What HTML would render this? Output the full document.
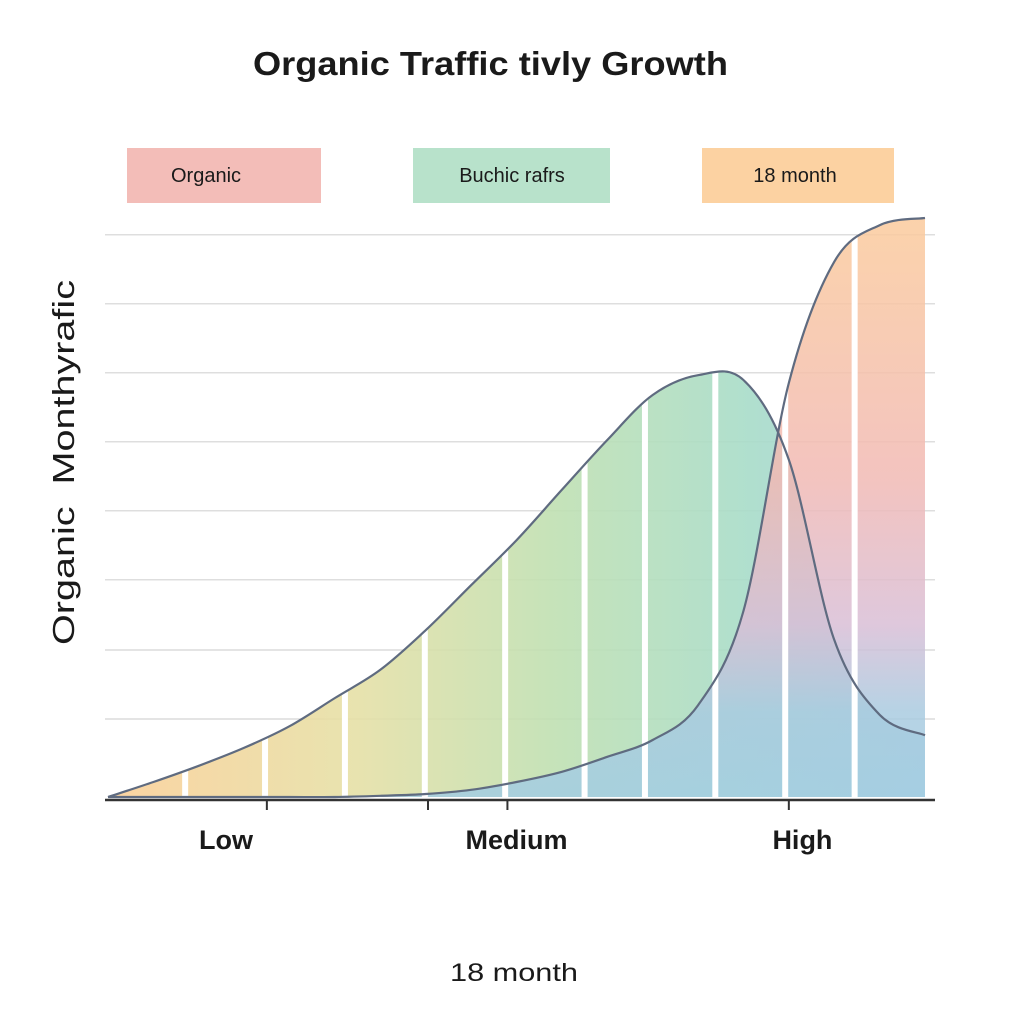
<!DOCTYPE html>
<html><head><meta charset="utf-8"><style>
body{margin:0;background:#fff;width:1024px;height:1024px;overflow:hidden}
svg text{font-family:"Liberation Sans",sans-serif;fill:#1a1a1a}
</style></head><body>
<svg id="chart" width="1024" height="1024" viewBox="0 0 1024 1024">
<defs>
<linearGradient id="gA" x1="108" y1="0" x2="925" y2="0" gradientUnits="userSpaceOnUse">
<stop offset="0" stop-color="#fbcf98"/><stop offset="0.3" stop-color="#e6e0a6"/><stop offset="0.55" stop-color="#bfe0b2"/><stop offset="0.78" stop-color="#a8dcc8"/><stop offset="1" stop-color="#a6cfe0"/></linearGradient>
<linearGradient id="gB" x1="0" y1="215" x2="0" y2="800" gradientUnits="userSpaceOnUse">
<stop offset="0" stop-color="#fbcb9c"/><stop offset="0.45" stop-color="#f1b9b4"/><stop offset="0.7" stop-color="#d9bed6"/><stop offset="0.85" stop-color="#a9cbe0"/><stop offset="1" stop-color="#a3cde2"/></linearGradient>
<clipPath id="clipFill"><path id="cpA"/><path id="cpB"/></clipPath>
</defs>
<text x="253" y="75" textLength="475" lengthAdjust="spacingAndGlyphs" font-size="33" font-weight="bold">Organic Traffic tivly Growth</text>
<g>
<rect x="127" y="148" width="194" height="55" fill="#f3bdb8"/>
<text x="206" y="182" text-anchor="middle" font-size="20">Organic</text>
<rect x="413" y="148" width="197" height="55" fill="#b8e2cb"/>
<text x="512" y="182" text-anchor="middle" font-size="20">Buchic rafrs</text>
<rect x="702" y="148" width="192" height="55" fill="#fcd2a2"/>
<text x="795" y="182" text-anchor="middle" font-size="20">18 month</text>
</g>
<g id="grid"></g>
<g id="fills"></g>
<g id="seps" clip-path="url(#clipFill)"></g>
<g id="lines"></g>
<line x1="105" y1="800" x2="935" y2="800" stroke="#333" stroke-width="2.5"/>
<g id="ticks"></g>
<text transform="translate(74,645) rotate(-90)" textLength="365" lengthAdjust="spacingAndGlyphs" font-size="31" xml:space="preserve">Organic  Monthyrafic</text>
<text x="450" y="981" textLength="128" lengthAdjust="spacingAndGlyphs" font-size="25">18 month</text>
</svg>
<script>
const months=[0,1,2,3,4,5,6,7,8,9,10,11,12,13,14,15,16,17,18];
const seriesA=[0,2.5,5.2,8.2,11.8,16.5,21.2,27.8,35.3,42.8,51.2,59.5,67,70.3,69.5,56.2,26.2,13.7,10.3];
const seriesB=[0,0,0,0,0,0,0.2,0.5,1.2,2.5,4.2,6.7,9.5,15.3,31,69,89.2,95.3,96.5];
const gridValues=[13,24.5,36.2,47.7,59.2,70.7,82.2,93.7];
const tickMonths=[3.5,7.05,8.8,15];
const tickLabels=[{m:2.6,t:"Low"},{m:9.0,t:"Medium"},{m:15.3,t:"High"}];
const sepMonths=[1.7,3.46,5.22,6.98,8.75,10.5,11.83,13.38,14.92,16.45];
const NS="http://www.w3.org/2000/svg";
const X=m=>108+m*(925-108)/18;
const Y=v=>797-v*6;
function pathFor(vals){
  const p=vals.map((v,i)=>[X(months[i]),Y(v)]);
  let d="M"+p[0][0]+","+p[0][1];
  for(let i=0;i<p.length-1;i++){
    const p0=p[Math.max(i-1,0)],p1=p[i],p2=p[i+1],p3=p[Math.min(i+2,p.length-1)];
    const c1=[p1[0]+(p2[0]-p0[0])/6,p1[1]+(p2[1]-p0[1])/6];
    const c2=[p2[0]-(p3[0]-p1[0])/6,p2[1]-(p3[1]-p1[1])/6];
    d+=` C${c1[0]},${c1[1]} ${c2[0]},${c2[1]} ${p2[0]},${p2[1]}`;
  }
  return d;
}
function mk(tag,attrs,parent){const e=document.createElementNS(NS,tag);for(const k in attrs)e.setAttribute(k,attrs[k]);parent.appendChild(e);return e;}
const grid=document.getElementById('grid');
gridValues.forEach(g=>{
  const l=mk('line',{x1:105,x2:935,y1:Y(g),y2:Y(g),stroke:'#d4d4d4','stroke-width':1.2},grid);
  
  
});
const dA=pathFor(seriesA),dB=pathFor(seriesB);
const areaA=dA+` L${X(18)},${Y(0)} L${X(0)},${Y(0)} Z`;
const areaB=dB+` L${X(18)},${Y(0)} L${X(0)},${Y(0)} Z`;
document.getElementById('cpA').setAttribute('d',areaA);
document.getElementById('cpB').setAttribute('d',areaB);
const fills=document.getElementById('fills');
const fa=mk('path',{d:areaA,fill:'url(#gA)','fill-opacity':0.9},fills);


const fb=mk('path',{d:areaB,fill:'url(#gB)','fill-opacity':0.85},fills);


const seps=document.getElementById('seps');
sepMonths.forEach(m=>{
  const r=mk('rect',{x:X(m)-3,y:200,width:6,height:600,fill:'#fff'},seps);
  
  
});
const lines=document.getElementById('lines');
const la=mk('path',{d:dA,fill:'none',stroke:'#5f6b80','stroke-width':2.2},lines);


const lb=mk('path',{d:dB,fill:'none',stroke:'#5f6b80','stroke-width':2.2},lines);


const ticks=document.getElementById('ticks');
tickMonths.forEach(m=>{
  const t=mk('line',{x1:X(m),x2:X(m),y1:800,y2:810,stroke:'#333','stroke-width':2},ticks);
  
  
});
tickLabels.forEach(o=>{
  const t=mk('text',{x:X(o.m),y:849,'text-anchor':'middle','font-size':27,'font-weight':'bold',fill:'#222'},ticks);
  t.textContent=o.t;
  
  
});
</script>
</body></html>
